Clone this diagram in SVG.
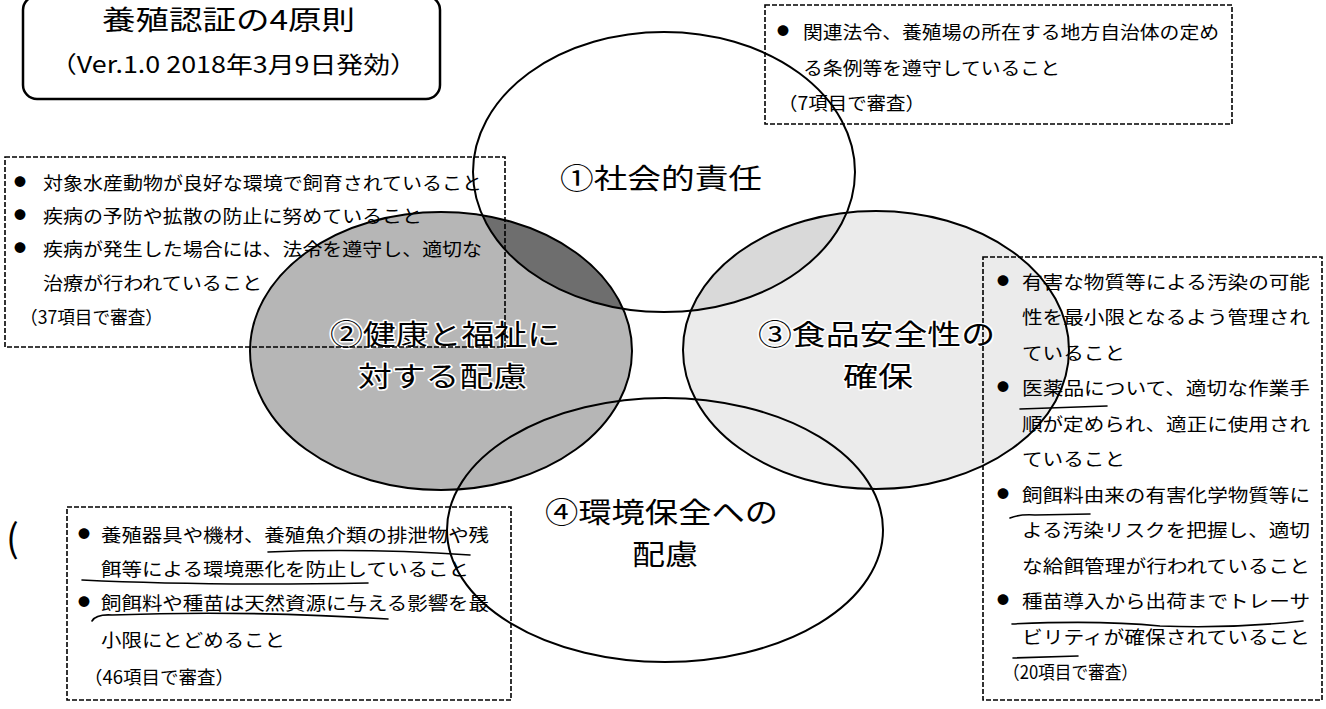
<svg xmlns="http://www.w3.org/2000/svg" width="1326" height="709" viewBox="0 0 1326 709">
<style>
  .jp { font-family: "Noto Sans CJK JP", "Noto Sans", sans-serif; fill: #000; }
  .body { font-size: 18px; }
  .lbl { font-size: 28.5px; stroke: #fff; stroke-width: 3px; paint-order: stroke; stroke-linejoin: round; }
  .bul { font-size: 12px; text-anchor: middle; }
  .ell { fill: none; stroke: #000; stroke-width: 2; }
  .dash { fill: none; stroke: #000; stroke-width: 1.6; stroke-dasharray: 5 2; }
  .pen { fill: none; stroke: #000; stroke-width: 1.6; stroke-linecap: round; }
</style>
<defs>
  <clipPath id="clip2"><ellipse cx="441" cy="351" rx="191" ry="139"/></clipPath>
  <clipPath id="clip3"><ellipse cx="876" cy="350" rx="193" ry="139"/></clipPath>
</defs>
<rect width="1326" height="709" fill="#fff"/>

<g id="fills">
  <ellipse cx="876" cy="350" rx="193" ry="139" fill="#ebebeb"/>
  <ellipse cx="664" cy="172" rx="191" ry="140" fill="#d9d9d9" clip-path="url(#clip3)"/>
  <ellipse cx="441" cy="351" rx="191" ry="139" fill="#b6b6b6"/>
  <ellipse cx="664" cy="172" rx="191" ry="140" fill="#6e6e6e" clip-path="url(#clip2)"/>
</g>

<g id="node-1">
  <ellipse class="ell" cx="664" cy="172" rx="191" ry="140"/>
  <text class="jp lbl" x="560" y="189" font-size="31" textLength="202" lengthAdjust="spacingAndGlyphs">①社会的責任</text>
</g>
<g id="node-2">
  <ellipse class="ell" cx="441" cy="351" rx="191" ry="139"/>
  <text class="jp lbl"><tspan x="330" y="345" textLength="230" lengthAdjust="spacingAndGlyphs">②健康と福祉に</tspan><tspan x="358" y="387" textLength="169" lengthAdjust="spacingAndGlyphs">対する配慮</tspan></text>
</g>
<g id="node-3">
  <ellipse class="ell" cx="876" cy="350" rx="193" ry="139"/>
  <text class="jp lbl"><tspan x="758" y="345" textLength="237" lengthAdjust="spacingAndGlyphs">③食品安全性の</tspan><tspan x="843" y="387" textLength="70" lengthAdjust="spacingAndGlyphs">確保</tspan></text>
</g>
<g id="node-4">
  <ellipse class="ell" cx="665" cy="530" rx="218" ry="132"/>
  <text class="jp lbl"><tspan x="545" y="523" textLength="233" lengthAdjust="spacingAndGlyphs">④環境保全への</tspan><tspan x="632" y="565" textLength="66" lengthAdjust="spacingAndGlyphs">配慮</tspan></text>
</g>

<g id="title">
  <rect x="23" y="-4" width="417" height="103" rx="14" fill="#fff" stroke="#000" stroke-width="2.5"/>
  <text class="jp" x="102" y="30" font-size="27" textLength="253" lengthAdjust="spacingAndGlyphs">養殖認証の4原則</text>
  <text class="jp" x="50" y="73" font-size="23" textLength="367" lengthAdjust="spacingAndGlyphs">（Ver.1.0 2018年3月9日発効）</text>
</g>

<g id="box-social">
  <rect class="dash" x="765" y="5" width="467" height="119"/>
  <text class="jp bul" x="783" y="36">●</text>
  <text class="jp body" x="803" y="39" textLength="416" lengthAdjust="spacingAndGlyphs">関連法令、養殖場の所在する地方自治体の定め</text>
  <text class="jp body" x="803" y="75" textLength="257" lengthAdjust="spacingAndGlyphs">る条例等を遵守していること</text>
  <text class="jp body" x="778" y="110" textLength="147" lengthAdjust="spacingAndGlyphs">（7項目で審査）</text>
</g>

<g id="box-health">
  <rect class="dash" x="5" y="157" width="500" height="190"/>
  <text class="jp bul" x="20" y="187">●</text>
  <text class="jp body" x="43" y="190" textLength="439" lengthAdjust="spacingAndGlyphs">対象水産動物が良好な環境で飼育されていること</text>
  <text class="jp bul" x="20" y="220">●</text>
  <text class="jp body" x="43" y="223" textLength="379" lengthAdjust="spacingAndGlyphs">疾病の予防や拡散の防止に努めていること</text>
  <text class="jp bul" x="20" y="253">●</text>
  <text class="jp body" x="43" y="256" textLength="439" lengthAdjust="spacingAndGlyphs">疾病が発生した場合には、法令を遵守し、適切な</text>
  <text class="jp body" x="43" y="290" textLength="219" lengthAdjust="spacingAndGlyphs">治療が行われていること</text>
  <text class="jp body" x="20" y="324" textLength="143" lengthAdjust="spacingAndGlyphs">（37項目で審査）</text>
</g>

<g id="box-food">
  <rect class="dash" x="983" y="257" width="339" height="443"/>
  <text class="jp bul" x="1003" y="286">●</text>
  <text class="jp body" x="1022" y="289" textLength="288" lengthAdjust="spacingAndGlyphs">有害な物質等による汚染の可能</text>
  <text class="jp body" x="1022" y="324" textLength="288" lengthAdjust="spacingAndGlyphs">性を最小限となるよう管理され</text>
  <text class="jp body" x="1022" y="360" textLength="103" lengthAdjust="spacingAndGlyphs">ていること</text>
  <text class="jp bul" x="1003" y="392">●</text>
  <text class="jp body" x="1022" y="395" textLength="288" lengthAdjust="spacingAndGlyphs">医薬品について、適切な作業手</text>
  <text class="jp body" x="1022" y="431" textLength="288" lengthAdjust="spacingAndGlyphs">順が定められ、適正に使用され</text>
  <text class="jp body" x="1022" y="466" textLength="103" lengthAdjust="spacingAndGlyphs">ていること</text>
  <text class="jp bul" x="1003" y="499">●</text>
  <text class="jp body" x="1022" y="502" textLength="288" lengthAdjust="spacingAndGlyphs">飼餌料由来の有害化学物質等に</text>
  <text class="jp body" x="1022" y="537" textLength="288" lengthAdjust="spacingAndGlyphs">よる汚染リスクを把握し、適切</text>
  <text class="jp body" x="1022" y="573" textLength="288" lengthAdjust="spacingAndGlyphs">な給餌管理が行われていること</text>
  <text class="jp bul" x="1003" y="605">●</text>
  <text class="jp body" x="1022" y="608" textLength="288" lengthAdjust="spacingAndGlyphs">種苗導入から出荷までトレーサ</text>
  <text class="jp body" x="1022" y="644" textLength="288" lengthAdjust="spacingAndGlyphs">ビリティが確保されていること</text>
  <text class="jp body" x="1003" y="679" textLength="135" lengthAdjust="spacingAndGlyphs">（20項目で審査）</text>
</g>

<g id="box-env">
  <rect class="dash" x="67" y="507" width="444" height="193"/>
  <text class="jp bul" x="84" y="539">●</text>
  <text class="jp body" x="101" y="542" textLength="388" lengthAdjust="spacingAndGlyphs">養殖器具や機材、養殖魚介類の排泄物や残</text>
  <text class="jp body" x="101" y="576" textLength="368" lengthAdjust="spacingAndGlyphs">餌等による環境悪化を防止していること</text>
  <text class="jp bul" x="84" y="607">●</text>
  <text class="jp body" x="101" y="610" textLength="388" lengthAdjust="spacingAndGlyphs">飼餌料や種苗は天然資源に与える影響を最</text>
  <text class="jp body" x="101" y="647" textLength="184" lengthAdjust="spacingAndGlyphs">小限にとどめること</text>
  <text class="jp body" x="84" y="684" textLength="150" lengthAdjust="spacingAndGlyphs">（46項目で審査）</text>
</g>

<g id="connectors"></g>

<g id="pen-marks">
  <path class="pen" d="M268,552 Q365,548 470,555"/>
  <path class="pen" d="M82,580 Q205,586 368,583"/>
  <path class="pen" d="M92,621 Q96,614 112,615 Q245,610 388,619"/>
  <path class="pen" d="M1020,409 L1107,406"/>
  <path class="pen" d="M1010,518 Q1020,514 1035,515 L1090,514"/>
  <path class="pen" d="M1012,624 Q1100,620 1160,626 Q1230,629 1303,621"/>
  <path class="pen" d="M1013,658 L1078,656"/>
  <text class="jp" x="6" y="552" font-size="38">(</text>
</g>
</svg>
